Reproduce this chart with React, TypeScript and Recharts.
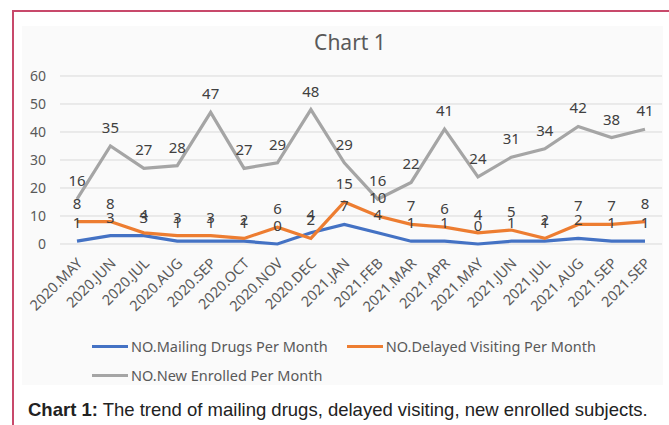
import { LineChart, Line, XAxis, YAxis, CartesianGrid, LabelList } from 'recharts';

const months = [
  '2020.MAY', '2020.JUN', '2020.JUL', '2020.AUG', '2020.SEP', '2020.OCT', '2020.NOV', '2020.DEC',
  '2021.JAN', '2021.FEB', '2021.MAR', '2021.APR', '2021.MAY', '2021.JUN', '2021.JUL', '2021.AUG',
  '2021.SEP', '2021.SEP',
];
const mailingDrugs = [1, 3, 3, 1, 1, 1, 0, 4, 7, 4, 1, 1, 0, 1, 1, 2, 1, 1];
const delayedVisiting = [8, 8, 4, 3, 3, 2, 6, 2, 15, 10, 7, 6, 4, 5, 2, 7, 7, 8];
const newEnrolled = [16, 35, 27, 28, 47, 27, 29, 48, 29, 16, 22, 41, 24, 31, 34, 42, 38, 41];
const yTicks = [0, 10, 20, 30, 40, 50, 60];

const series = [
  { key: 'mailing', name: 'NO.Mailing Drugs Per Month', color: '#4472C4' },
  { key: 'delayed', name: 'NO.Delayed Visiting Per Month', color: '#ED7D31' },
  { key: 'enrolled', name: 'NO.New Enrolled Per Month', color: '#A5A5A5' },
];

const data = months.map((month, i) => ({
  month,
  mailing: mailingDrugs[i],
  delayed: delayedVisiting[i],
  enrolled: newEnrolled[i],
}));

const font = '"Noto Sans", sans-serif';
const textGray = '#595959';

export default function App() {
  return (
    <div style={{ position: 'absolute', left: 0, top: 0, width: 669, height: 425, background: '#fff', overflow: 'hidden' }}>
      {/* frame + chart panel */}
      <div style={{ position: 'absolute', left: 12, top: 10, width: 700, height: 460, borderLeft: '2px solid #c8496b', borderTop: '2px solid #c8496b' }} />
      <div style={{ position: 'absolute', left: 22, top: 26, width: 641, height: 359, background: '#fafafa' }} />

      <div style={{ position: 'absolute', left: 0, top: 28, width: 700, textAlign: 'center', fontFamily: font, fontSize: 21, color: textGray }}>
        Chart 1
      </div>

      <div style={{ position: 'absolute', left: 0, top: 0 }}>
        <LineChart width={669} height={425} data={data} margin={{ top: 76, right: 7, left: 20, bottom: 0 }}>
          <CartesianGrid vertical={false} stroke="#d9d9d9" />
          <XAxis
            dataKey="month"
            height={181}
            padding={{ left: 17, right: 17 }}
            axisLine={false}
            tickLine={false}
            interval={0}
            angle={-45}
            textAnchor="end"
            tick={{ fontFamily: font, fontSize: 14.5, fill: textGray, dx: -1, dy: 5 }}
          />
          <YAxis
            width={40}
            domain={[0, 60]}
            ticks={yTicks}
            axisLine={false}
            tickLine={false}
            tickMargin={8}
            tick={{ fontFamily: font, fontSize: 14, fill: textGray }}
          />
          {series.map((s) => (
            <Line
              key={s.key}
              type="linear"
              dataKey={s.key}
              name={s.name}
              stroke={s.color}
              strokeWidth={3.2}
              dot={false}
              isAnimationActive={false}
            >
              <LabelList
                dataKey={s.key}
                position="top"
                offset={13}
                style={{ fontFamily: font, fontSize: 15, fill: '#404040' }}
              />
            </Line>
          ))}
        </LineChart>
      </div>

      {/* legend */}
      <div
        style={{
          position: 'absolute', left: 92, top: 336, width: 540, display: 'flex', flexWrap: 'wrap',
          columnGap: 19, rowGap: 9, fontFamily: font, fontSize: 14.5, color: textGray, lineHeight: '20px',
        }}
      >
        {series.map((s) => (
          <div key={s.key} style={{ display: 'flex', alignItems: 'center' }}>
            <span style={{ display: 'inline-block', width: 36, height: 3, background: s.color, marginRight: 3 }} />
            {s.name}
          </div>
        ))}
      </div>

      <div style={{ position: 'absolute', left: 28, top: 399, fontFamily: '"Liberation Sans", Arial, sans-serif', fontSize: 18.5, color: '#222', whiteSpace: 'nowrap' }}>
        <b>Chart 1:</b> The trend of mailing drugs, delayed visiting, new enrolled subjects.
      </div>
    </div>
  );
}
